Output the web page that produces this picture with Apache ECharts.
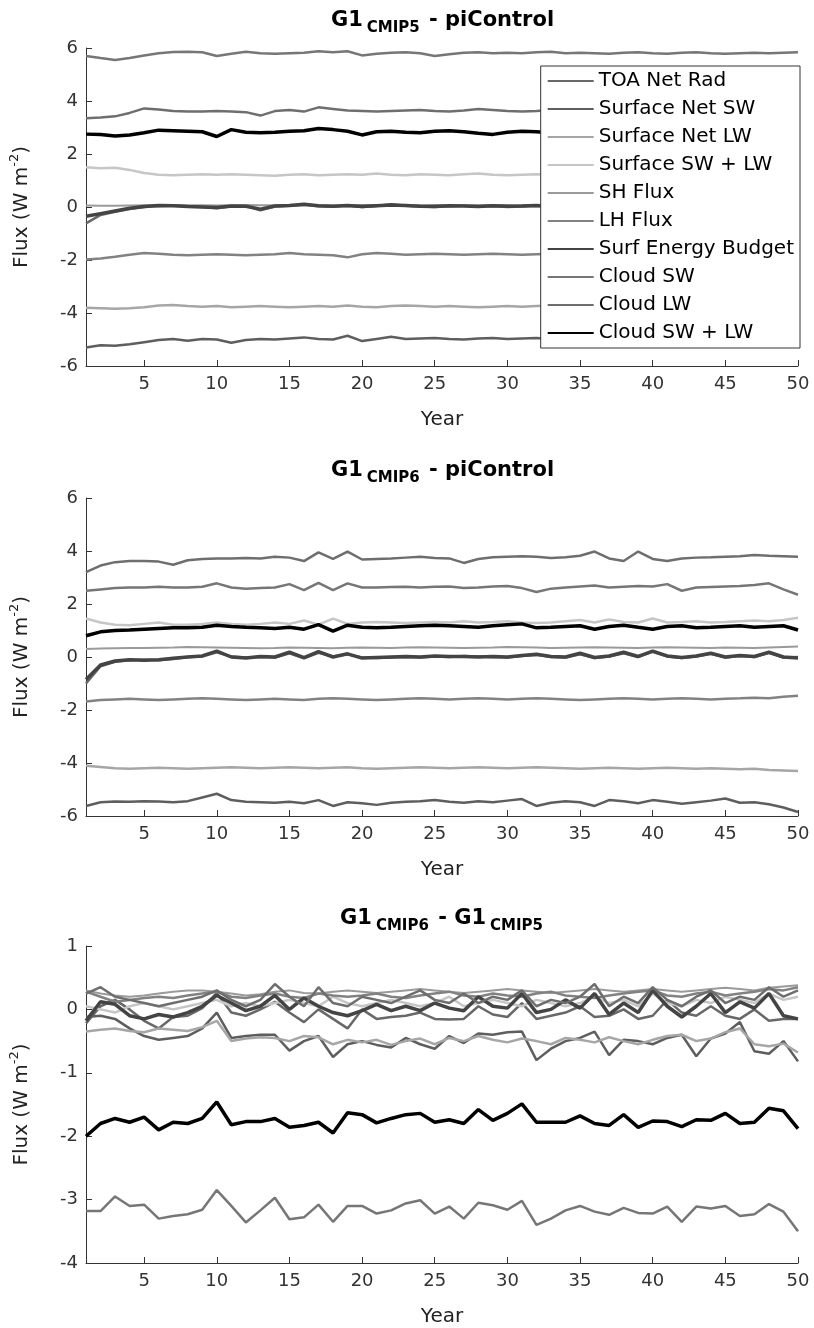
<!DOCTYPE html>
<html><head><meta charset="utf-8">
<script src="https://cdn.jsdelivr.net/npm/echarts@6/dist/echarts.min.js"></script>
<style>html,body{margin:0;padding:0;background:#fff}#c{width:814px;height:1328px}</style>
</head><body><div id="c"></div>
<script>
const years = [1,2,3,4,5,6,7,8,9,10,11,12,13,14,15,16,17,18,19,20,21,22,23,24,25,26,27,28,29,30,31,32,33,34,35,36,37,38,39,40,41,42,43,44,45,46,47,48,49,50];
const xTicks = [5,10,15,20,25,30,35,40,45,50];
const seriesNames = ['TOA Net Rad','Surface Net SW','Surface Net LW','Surface SW + LW','SH Flux','LH Flux','Surf Energy Budget','Cloud SW','Cloud LW','Cloud SW + LW'];
const panelTitles = [['G1','CMIP5',' - piControl',''],['G1','CMIP6',' - piControl',''],['G1','CMIP6',' - G1','CMIP5']];
const yRanges = [[-6,6,2],[-6,6,2],[-4,1,1]];

// Panel 1: G1 CMIP5 - piControl
const toa5 = [-0.62,-0.30,-0.18,-0.08,0.00,0.04,0.06,0.03,0.00,-0.05,0.02,0.04,-0.12,0.02,0.05,0.08,0.03,0.02,0.05,0.00,0.04,0.10,0.05,0.02,0.00,0.03,0.06,0.03,0.04,0.00,0.02,0.05,0.03,0.00,0.04,0.06,0.02,0.00,0.03,0.05,0.02,0.04,0.06,0.02,0.00,0.03,0.05,0.02,0.04,0.03];
const sfcSW5 = [-5.30,-5.22,-5.24,-5.18,-5.10,-5.02,-4.98,-5.05,-4.98,-5.00,-5.12,-5.02,-4.98,-5.00,-4.96,-4.92,-4.98,-5.00,-4.86,-5.06,-4.98,-4.90,-4.98,-4.96,-4.94,-4.98,-5.00,-4.96,-4.94,-4.98,-4.96,-4.94,-4.98,-5.00,-4.96,-4.94,-4.98,-4.96,-4.94,-4.98,-5.00,-4.96,-4.94,-4.98,-4.96,-4.94,-4.98,-4.96,-4.94,-4.96];
const sfcLW5 = [-3.80,-3.82,-3.84,-3.82,-3.78,-3.72,-3.70,-3.74,-3.76,-3.74,-3.78,-3.76,-3.74,-3.76,-3.78,-3.76,-3.74,-3.76,-3.72,-3.76,-3.78,-3.74,-3.72,-3.74,-3.76,-3.74,-3.76,-3.78,-3.76,-3.74,-3.76,-3.74,-3.72,-3.74,-3.76,-3.78,-3.76,-3.74,-3.76,-3.74,-3.76,-3.74,-3.72,-3.74,-3.76,-3.74,-3.76,-3.74,-3.76,-3.74];
const sfcNet5 = [1.50,1.46,1.48,1.40,1.28,1.22,1.20,1.22,1.24,1.22,1.24,1.22,1.20,1.18,1.22,1.24,1.20,1.22,1.24,1.22,1.26,1.22,1.20,1.24,1.22,1.20,1.24,1.26,1.22,1.20,1.22,1.24,1.22,1.26,1.24,1.20,1.22,1.24,1.22,1.26,1.24,1.22,1.24,1.26,1.24,1.22,1.26,1.28,1.26,1.30];
const sh5 = [0.06,0.05,0.05,0.06,0.07,0.08,0.08,0.07,0.07,0.06,0.07,0.08,0.07,0.07,0.08,0.08,0.07,0.06,0.07,0.08,0.08,0.07,0.06,0.07,0.08,0.07,0.06,0.07,0.08,0.07,0.07,0.08,0.07,0.06,0.07,0.08,0.07,0.07,0.06,0.07,0.08,0.07,0.07,0.08,0.07,0.06,0.07,0.08,0.07,0.07];
const lh5 = [-1.98,-1.94,-1.88,-1.80,-1.74,-1.76,-1.80,-1.82,-1.80,-1.78,-1.80,-1.82,-1.80,-1.78,-1.74,-1.78,-1.80,-1.82,-1.90,-1.78,-1.74,-1.76,-1.80,-1.78,-1.76,-1.78,-1.80,-1.78,-1.76,-1.78,-1.80,-1.78,-1.76,-1.78,-1.80,-1.78,-1.76,-1.78,-1.80,-1.78,-1.76,-1.78,-1.76,-1.78,-1.80,-1.78,-1.76,-1.78,-1.76,-1.78];
const seb5 = [-0.35,-0.25,-0.15,-0.05,0.02,0.06,0.05,0.02,0.00,-0.02,0.04,0.03,-0.08,0.04,0.06,0.10,0.05,0.03,0.06,0.02,0.05,0.08,0.06,0.03,0.02,0.05,0.04,0.02,0.05,0.03,0.04,0.06,0.02,0.03,0.05,0.04,0.03,0.02,0.05,0.06,0.03,0.05,0.04,0.03,0.02,0.05,0.04,0.03,0.05,0.04];
const cldSW5 = [5.70,5.62,5.55,5.62,5.72,5.80,5.85,5.86,5.84,5.70,5.78,5.86,5.80,5.78,5.80,5.82,5.88,5.84,5.88,5.72,5.78,5.82,5.84,5.80,5.70,5.76,5.82,5.84,5.80,5.82,5.80,5.84,5.86,5.80,5.82,5.80,5.78,5.82,5.84,5.80,5.78,5.82,5.84,5.80,5.78,5.80,5.82,5.80,5.82,5.84];
const cldLW5 = [3.35,3.38,3.42,3.55,3.72,3.68,3.62,3.60,3.60,3.62,3.60,3.58,3.45,3.62,3.66,3.60,3.76,3.70,3.64,3.62,3.60,3.62,3.64,3.66,3.62,3.60,3.64,3.70,3.66,3.62,3.60,3.62,3.66,3.64,3.60,3.62,3.64,3.62,3.60,3.62,3.64,3.66,3.62,3.60,3.62,3.60,3.64,3.62,3.60,3.58];
const cldNet5 = [2.75,2.74,2.68,2.72,2.80,2.90,2.88,2.86,2.84,2.66,2.92,2.82,2.80,2.82,2.86,2.88,2.96,2.92,2.86,2.72,2.84,2.86,2.82,2.80,2.86,2.88,2.84,2.78,2.74,2.82,2.86,2.84,2.80,2.84,2.86,2.82,2.80,2.82,2.84,2.86,2.82,2.80,2.84,2.86,2.82,2.84,2.86,2.82,2.80,2.82];

// Panel 2: G1 CMIP6 - piControl
const toa6 = [-1.00,-0.35,-0.18,-0.12,-0.10,-0.12,-0.08,0.00,0.02,0.18,0.02,-0.02,0.00,-0.02,0.14,-0.05,0.16,0.02,0.10,-0.02,-0.04,-0.02,0.00,-0.02,0.02,0.00,0.04,0.02,0.00,-0.02,0.04,0.08,0.00,-0.02,0.10,-0.04,0.02,0.14,0.00,0.20,0.02,-0.04,0.02,0.12,-0.02,0.04,0.00,0.16,-0.02,0.00];
const sfcSW6 = [-5.62,-5.48,-5.45,-5.46,-5.44,-5.45,-5.48,-5.44,-5.30,-5.16,-5.40,-5.46,-5.48,-5.50,-5.46,-5.52,-5.40,-5.62,-5.48,-5.52,-5.58,-5.50,-5.46,-5.44,-5.40,-5.46,-5.50,-5.44,-5.48,-5.42,-5.36,-5.62,-5.50,-5.44,-5.48,-5.62,-5.40,-5.44,-5.52,-5.40,-5.46,-5.54,-5.48,-5.42,-5.34,-5.50,-5.48,-5.56,-5.68,-5.85];
const sfcLW6 = [-4.10,-4.15,-4.20,-4.22,-4.20,-4.18,-4.20,-4.22,-4.20,-4.18,-4.16,-4.18,-4.20,-4.18,-4.16,-4.18,-4.20,-4.18,-4.16,-4.20,-4.22,-4.20,-4.18,-4.16,-4.18,-4.20,-4.18,-4.16,-4.18,-4.20,-4.18,-4.16,-4.18,-4.20,-4.22,-4.20,-4.18,-4.20,-4.22,-4.20,-4.18,-4.20,-4.22,-4.20,-4.22,-4.24,-4.22,-4.26,-4.28,-4.30];
const sfcNet6 = [1.45,1.30,1.22,1.20,1.25,1.30,1.22,1.22,1.25,1.30,1.25,1.22,1.25,1.30,1.25,1.38,1.22,1.45,1.25,1.30,1.32,1.30,1.28,1.30,1.32,1.30,1.35,1.30,1.32,1.35,1.30,1.28,1.30,1.35,1.40,1.30,1.42,1.32,1.30,1.45,1.30,1.32,1.35,1.30,1.32,1.35,1.38,1.35,1.40,1.48];
const sh6 = [0.30,0.32,0.33,0.34,0.34,0.35,0.36,0.38,0.37,0.36,0.35,0.34,0.33,0.34,0.36,0.35,0.34,0.33,0.35,0.36,0.35,0.34,0.36,0.37,0.36,0.35,0.34,0.35,0.36,0.38,0.37,0.36,0.34,0.35,0.36,0.37,0.36,0.35,0.34,0.36,0.37,0.36,0.35,0.34,0.36,0.35,0.34,0.36,0.38,0.40];
const lh6 = [-1.68,-1.62,-1.60,-1.58,-1.60,-1.62,-1.60,-1.58,-1.56,-1.58,-1.60,-1.62,-1.60,-1.58,-1.60,-1.62,-1.58,-1.56,-1.58,-1.60,-1.62,-1.60,-1.58,-1.56,-1.58,-1.60,-1.58,-1.56,-1.58,-1.60,-1.58,-1.56,-1.58,-1.60,-1.62,-1.60,-1.58,-1.56,-1.58,-1.60,-1.58,-1.56,-1.58,-1.60,-1.58,-1.56,-1.54,-1.56,-1.50,-1.46];
const seb6 = [-0.85,-0.30,-0.15,-0.10,-0.12,-0.10,-0.05,0.00,0.04,0.22,0.00,-0.04,0.02,0.00,0.18,-0.02,0.20,0.00,0.12,-0.04,-0.02,0.00,0.02,0.00,0.04,0.02,0.02,0.00,0.02,0.00,0.06,0.10,0.02,0.00,0.14,-0.02,0.04,0.18,0.02,0.22,0.04,-0.02,0.04,0.14,0.00,0.06,0.02,0.18,0.00,-0.04];
const cldSW6 = [2.50,2.55,2.60,2.62,2.62,2.65,2.62,2.62,2.65,2.78,2.62,2.58,2.60,2.62,2.75,2.52,2.80,2.52,2.78,2.62,2.62,2.64,2.65,2.62,2.65,2.66,2.60,2.62,2.66,2.68,2.60,2.45,2.58,2.62,2.66,2.70,2.62,2.65,2.68,2.66,2.75,2.50,2.62,2.64,2.66,2.68,2.72,2.78,2.55,2.35];
const cldLW6 = [3.20,3.45,3.58,3.62,3.62,3.60,3.48,3.65,3.70,3.72,3.72,3.74,3.72,3.78,3.75,3.62,3.95,3.70,3.98,3.68,3.70,3.72,3.75,3.78,3.74,3.72,3.55,3.70,3.76,3.78,3.80,3.78,3.74,3.76,3.82,3.98,3.72,3.62,3.98,3.70,3.62,3.72,3.75,3.76,3.78,3.80,3.85,3.82,3.80,3.78];
const cldNet6 = [0.80,0.95,1.00,1.02,1.05,1.08,1.10,1.10,1.12,1.20,1.15,1.12,1.10,1.08,1.12,1.05,1.22,0.98,1.20,1.12,1.10,1.12,1.15,1.18,1.20,1.18,1.15,1.12,1.18,1.22,1.25,1.10,1.12,1.15,1.18,1.05,1.15,1.20,1.12,1.05,1.15,1.18,1.10,1.12,1.15,1.18,1.12,1.15,1.18,1.02];

// Panel 3: G1 CMIP6 - G1 CMIP5
const toaD = [-0.22,0.05,0.15,0.00,-0.18,-0.30,-0.12,-0.10,0.02,0.26,-0.05,-0.10,0.00,0.12,-0.05,-0.20,0.00,-0.15,-0.30,0.00,-0.15,-0.12,-0.10,-0.05,-0.15,-0.16,-0.15,0.05,-0.08,-0.12,0.10,-0.15,-0.10,-0.05,0.05,-0.12,-0.10,0.00,-0.15,-0.10,0.15,-0.05,-0.10,0.05,-0.10,-0.15,0.00,-0.18,-0.15,-0.15];
const sfcSWD = [-0.12,-0.10,-0.15,-0.30,-0.42,-0.48,-0.45,-0.42,-0.30,-0.05,-0.45,-0.42,-0.40,-0.40,-0.65,-0.50,-0.42,-0.75,-0.55,-0.50,-0.56,-0.60,-0.45,-0.55,-0.62,-0.42,-0.53,-0.38,-0.40,-0.36,-0.35,-0.80,-0.62,-0.50,-0.45,-0.35,-0.72,-0.48,-0.50,-0.55,-0.45,-0.40,-0.74,-0.46,-0.38,-0.20,-0.66,-0.70,-0.50,-0.82];
const sfcLWD = [-0.35,-0.32,-0.30,-0.34,-0.36,-0.30,-0.32,-0.34,-0.28,-0.18,-0.50,-0.46,-0.44,-0.45,-0.50,-0.42,-0.44,-0.55,-0.48,-0.52,-0.48,-0.56,-0.50,-0.46,-0.55,-0.45,-0.50,-0.42,-0.48,-0.52,-0.46,-0.50,-0.55,-0.45,-0.48,-0.52,-0.44,-0.50,-0.55,-0.48,-0.42,-0.40,-0.50,-0.46,-0.36,-0.30,-0.55,-0.58,-0.54,-0.68];
const sfcNetD = [0.05,0.00,-0.05,0.05,0.10,0.05,0.00,0.05,0.10,0.15,0.05,0.10,0.05,0.10,0.15,0.10,0.05,0.20,0.10,0.05,0.10,0.15,0.10,0.05,0.10,0.20,0.05,0.10,0.15,0.10,0.05,0.15,0.10,0.05,0.10,0.20,0.10,0.15,0.05,0.25,0.10,0.05,0.15,0.10,0.20,0.15,0.10,0.25,0.15,0.20];
const shD = [0.30,0.25,0.22,0.20,0.22,0.25,0.28,0.30,0.30,0.28,0.25,0.22,0.24,0.28,0.30,0.26,0.25,0.28,0.30,0.28,0.26,0.28,0.30,0.32,0.30,0.28,0.26,0.28,0.30,0.32,0.30,0.28,0.26,0.28,0.30,0.32,0.30,0.28,0.30,0.32,0.30,0.28,0.30,0.32,0.34,0.32,0.30,0.34,0.36,0.38];
const lhD = [0.28,0.20,0.12,0.15,0.18,0.20,0.18,0.22,0.25,0.28,0.20,0.18,0.22,0.25,0.20,0.18,0.25,0.22,0.20,0.22,0.25,0.20,0.18,0.22,0.25,0.28,0.22,0.20,0.25,0.22,0.20,0.25,0.28,0.22,0.20,0.18,0.22,0.25,0.28,0.30,0.22,0.20,0.25,0.28,0.22,0.25,0.28,0.32,0.30,0.35];
const sebD = [-0.18,0.12,0.08,-0.10,-0.15,-0.08,-0.12,-0.05,0.05,0.22,0.10,-0.02,0.05,0.22,0.00,0.18,0.05,-0.05,-0.10,-0.02,0.08,-0.02,0.05,-0.02,0.10,0.02,-0.02,0.20,0.05,0.02,0.25,-0.05,0.00,0.15,0.02,0.25,-0.08,0.10,-0.05,0.30,0.05,-0.12,0.05,0.25,-0.05,0.12,0.02,0.25,-0.10,-0.15];
const cldSWD = [-3.18,-3.18,-2.95,-3.10,-3.08,-3.30,-3.26,-3.23,-3.16,-2.85,-3.10,-3.36,-3.17,-2.97,-3.31,-3.28,-3.08,-3.35,-3.10,-3.10,-3.22,-3.17,-3.06,-3.01,-3.22,-3.11,-3.30,-3.05,-3.09,-3.16,-3.02,-3.40,-3.30,-3.17,-3.10,-3.19,-3.24,-3.13,-3.21,-3.22,-3.11,-3.35,-3.11,-3.14,-3.10,-3.26,-3.23,-3.07,-3.19,-3.50];
const cldLWD = [0.25,0.35,0.20,0.15,0.10,0.05,0.10,0.15,0.20,0.30,0.15,0.05,0.15,0.40,0.20,0.05,0.35,0.10,0.05,0.20,0.15,0.10,0.20,0.30,0.15,0.10,0.25,0.10,0.20,0.15,0.30,0.05,0.15,0.10,0.20,0.40,0.05,0.20,0.10,0.35,0.15,0.05,0.20,0.30,0.10,0.20,0.15,0.35,0.20,0.30];
const cldNetD = [-2.00,-1.80,-1.72,-1.78,-1.70,-1.90,-1.78,-1.80,-1.72,-1.46,-1.82,-1.77,-1.77,-1.72,-1.86,-1.83,-1.78,-1.95,-1.63,-1.66,-1.79,-1.72,-1.66,-1.64,-1.78,-1.74,-1.80,-1.58,-1.75,-1.64,-1.49,-1.78,-1.78,-1.78,-1.68,-1.80,-1.83,-1.66,-1.86,-1.76,-1.77,-1.85,-1.74,-1.75,-1.64,-1.80,-1.78,-1.56,-1.60,-1.88];

const panels = [
  [toa5, sfcSW5, sfcLW5, sfcNet5, sh5, lh5, seb5, cldSW5, cldLW5, cldNet5],
  [toa6, sfcSW6, sfcLW6, sfcNet6, sh6, lh6, seb6, cldSW6, cldLW6, cldNet6],
  [toaD, sfcSWD, sfcLWD, sfcNetD, shD, lhD, sebD, cldSWD, cldLWD, cldNetD]
];

const F = 'DejaVu Sans';
const lineColors = ['#686868','#5e5e5e','#a6a6a6','#c6c6c6','#9a9a9a','#828282','#444444','#767676','#6e6e6e','#000000'];
const lineWidths = [2.5,2.5,2.5,2.5,2,2.5,3.5,2.5,2.5,3.5];
const gridTops = [48, 498, 946];
const gridH = 318, gridL = 77, gridW = 721;

const series = [];
panels.forEach((arrs, p) => {
  arrs.forEach((arr, i) => {
    series.push({
      name: seriesNames[i], type: 'line', xAxisIndex: p, yAxisIndex: p,
      symbol: 'none', animation: false, z: 2 + i * 0.01,
      data: arr.map((v, k) => [years[k], v]),
      lineStyle: { color: lineColors[i], width: lineWidths[i] },
      itemStyle: { color: lineColors[i] }
    });
  });
});

const option = {
  backgroundColor: '#fff',
  animation: false,
  title: panelTitles.map((t, i) => ({
    text: '{g|' + t[0] + '}{s|' + t[1] + '}{g|' + t[2] + '}' + (t[3] ? '{s|' + t[3] + '}' : ''),
    left: gridL + gridW / 2, textAlign: 'center', top: gridTops[i] - 47,
    textStyle: {
      rich: {
        g: { fontFamily: F, fontSize: 21, fontWeight: 'bold', color: '#000', lineHeight: 30, verticalAlign: 'middle' },
        s: { fontFamily: F, fontSize: 15, fontWeight: 'bold', color: '#000', lineHeight: 15, verticalAlign: 'bottom', padding: [0, 2, 0, 4] }
      }
    }
  })),
  legend: {
    data: seriesNames, orient: 'vertical', right: 14, top: 66,
    itemWidth: 46, itemHeight: 14, itemGap: 8,
    backgroundColor: '#fff', borderColor: '#333', borderWidth: 1, borderRadius: 0,
    padding: [5, 6, 5, 6], selectedMode: false,
    itemStyle: { opacity: 0 },
    textStyle: { fontFamily: F, fontSize: 20, color: '#000', lineHeight: 20 }
  },
  grid: gridTops.map(t => ({ left: gridL, top: t, width: gridW, height: gridH, containLabel: false })),
  xAxis: [0, 1, 2].map(i => ({
    type: 'value', gridIndex: i, min: 1, max: 50,
    axisLine: { show: true, onZero: false, lineStyle: { color: '#333', width: 1 } },
    axisTick: { show: true, inside: true, length: 6, customValues: xTicks, lineStyle: { color: '#333' } },
    axisLabel: { customValues: xTicks, fontFamily: F, fontSize: 18, color: '#333', margin: 9 },
    splitLine: { show: false },
    name: 'Year', nameLocation: 'middle', nameGap: 44,
    nameTextStyle: { fontFamily: F, fontSize: 20, color: '#222' }
  })),
  yAxis: [0, 1, 2].map(i => ({
    type: 'value', gridIndex: i, min: yRanges[i][0], max: yRanges[i][1], interval: yRanges[i][2],
    axisLine: { show: true, onZero: false, lineStyle: { color: '#333', width: 1 } },
    axisTick: { show: true, inside: true, length: 6, lineStyle: { color: '#333' } },
    axisLabel: { fontFamily: F, fontSize: 18, color: '#333', margin: 8 },
    splitLine: { show: false },
    name: 'Flux (W m{sup|-2})', nameLocation: 'middle', nameGap: 50, nameRotate: 90,
    nameTextStyle: {
      fontFamily: F, fontSize: 20, color: '#222', lineHeight: 28,
      rich: { sup: { fontFamily: F, fontSize: 13, color: '#222', lineHeight: 13, verticalAlign: 'top' } }
    }
  })),
  series: series
};

const chart = echarts.init(document.getElementById('c'), null, { renderer: 'canvas' });
chart.setOption(option);
</script>
</body></html>
